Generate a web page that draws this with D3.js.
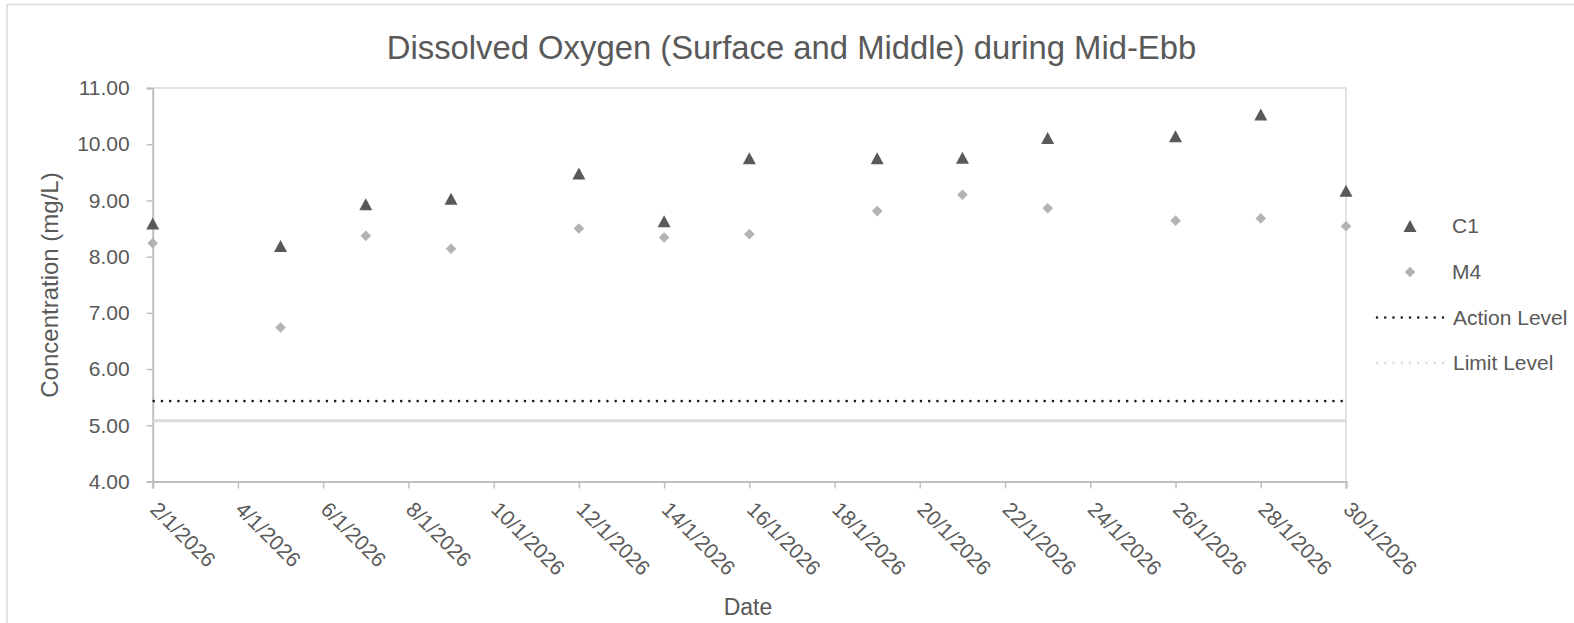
<!DOCTYPE html>
<html><head><meta charset="utf-8">
<script src="https://cdn.jsdelivr.net/npm/d3@7"></script>
<style>body{margin:0;background:#fff}svg{display:block;font-family:"Liberation Sans",Arial,sans-serif}</style>
</head><body><svg id="c" width="1574" height="623"></svg>
<script>
const dates = ["2/1/2026","5/1/2026","7/1/2026","9/1/2026","12/1/2026","14/1/2026","16/1/2026","19/1/2026","21/1/2026","23/1/2026","26/1/2026","28/1/2026","30/1/2026"];
const c1 = [8.59,8.19,8.93,9.03,9.48,8.63,9.75,9.75,9.76,10.11,10.14,10.53,9.17];
const m4 = [8.24,6.74,8.37,8.14,8.50,8.34,8.40,8.81,9.10,8.86,8.64,8.68,8.54];
const actionLevel = 5.43;
const limitLevel = 5.08;
const yTicks = [4,5,6,7,8,9,10,11];
const xTickDates = ["2/1/2026","4/1/2026","6/1/2026","8/1/2026","10/1/2026","12/1/2026","14/1/2026","16/1/2026","18/1/2026","20/1/2026","22/1/2026","24/1/2026","26/1/2026","28/1/2026","30/1/2026"];

const parse = d3.timeParse("%-d/%-m/%Y");
const svg = d3.select("#c");
const L=152.7, R=1346, T=88, B=481.5;
const x = d3.scaleTime().domain([parse("2/1/2026"), parse("30/1/2026")]).range([L,R]);
const y = d3.scaleLinear().domain([4,11]).range([B,T]);
const txt = "#595959";

// outer border
svg.append("rect").attr("x",7).attr("y",4.5).attr("width",1700).attr("height",800).attr("fill","none").attr("stroke","#d9d9d9").attr("stroke-width",1.5);

// title
svg.append("text").attr("x",791.5).attr("y",59).attr("text-anchor","middle").attr("font-size",32.8).attr("fill",txt)
  .text("Dissolved Oxygen (Surface and Middle) during Mid-Ebb");

// plot top/right border
svg.append("line").attr("x1",L).attr("x2",R).attr("y1",T).attr("y2",T).attr("stroke","#d9d9d9").attr("stroke-width",1.5);
svg.append("line").attr("x1",R).attr("x2",R).attr("y1",T).attr("y2",B).attr("stroke","#d9d9d9").attr("stroke-width",1.5);

// y axis
const ya = svg.append("g").attr("transform",`translate(${L},0)`)
  .call(d3.axisLeft(y).tickValues(yTicks).tickFormat(d3.format(".2f")).tickSize(6).tickPadding(17));
ya.select(".domain").attr("stroke","#bfbfbf").attr("stroke-width",2);
ya.selectAll(".tick line").attr("stroke","#bfbfbf").attr("stroke-width",1.5);
ya.selectAll(".tick text").attr("font-size",21).attr("fill",txt).attr("font-family","Liberation Sans, Arial");

// x axis
const xa = svg.append("g").attr("transform",`translate(0,${B})`)
  .call(d3.axisBottom(x).tickValues(xTickDates.map(parse)).tickFormat(d3.timeFormat("%-d/%-m/%Y")).tickSize(7));
xa.select(".domain").attr("stroke","#bfbfbf").attr("stroke-width",2);
xa.selectAll(".tick line").attr("stroke","#bfbfbf").attr("stroke-width",1.5);
xa.selectAll(".tick text").attr("font-size",21).attr("fill",txt).attr("font-family","Liberation Sans, Arial")
  .attr("text-anchor","start").attr("y",0).attr("dy","0.35em")
  .attr("transform","translate(1,24) rotate(45)").attr("x",0);

// axis titles
svg.append("text").attr("x",748).attr("y",615).attr("text-anchor","middle").attr("font-size",23).attr("fill",txt).text("Date");
svg.append("text").attr("transform","translate(58,285) rotate(-90)").attr("text-anchor","middle").attr("font-size",24).attr("fill",txt).text("Concentration (mg/L)");

// reference lines
svg.append("line").attr("x1",L).attr("x2",R).attr("y1",y(limitLevel)).attr("y2",y(limitLevel)).attr("stroke","#d9d9d9").attr("stroke-width",3);
svg.append("line").attr("x1",L+1).attr("x2",R).attr("y1",y(actionLevel)).attr("y2",y(actionLevel)).attr("stroke","#1a1a1a").attr("stroke-width",2.6).attr("stroke-dasharray","0 8.25").attr("stroke-linecap","round");

// markers
const triPath = "M0,-6.5L6.5,5.5L-6.5,5.5Z";
const dia = d3.symbol().type(d3.symbolDiamond2).size(72);
svg.append("g").selectAll("path").data(m4).join("path")
  .attr("d",dia).attr("fill","#b3b3b3")
  .attr("transform",(d,i)=>`translate(${x(parse(dates[i]))},${y(d)})`);
svg.append("g").selectAll("path").data(c1).join("path")
  .attr("d",triPath).attr("fill","#595959")
  .attr("transform",(d,i)=>`translate(${x(parse(dates[i]))},${y(d)+0.5})`);

// legend
const lg = svg.append("g");
lg.append("path").attr("d",triPath).attr("fill","#595959").attr("transform","translate(1410,226.5)");
lg.append("text").attr("x",1452).attr("y",226).attr("dy","0.35em").attr("font-size",21).attr("fill",txt).text("C1");
lg.append("path").attr("d",dia).attr("fill","#b3b3b3").attr("transform","translate(1410,272)");
lg.append("text").attr("x",1452).attr("y",272).attr("dy","0.35em").attr("font-size",21).attr("fill",txt).text("M4");
lg.append("line").attr("x1",1377).attr("x2",1446).attr("y1",317.5).attr("y2",317.5).attr("stroke","#1a1a1a").attr("stroke-width",2.6).attr("stroke-dasharray","0 8.25").attr("stroke-linecap","round");
lg.append("text").attr("x",1453).attr("y",317.5).attr("dy","0.35em").attr("font-size",21).attr("fill",txt).text("Action Level");
lg.append("line").attr("x1",1377).attr("x2",1446).attr("y1",363).attr("y2",363).attr("stroke","#dcdcdc").attr("stroke-width",2.6).attr("stroke-dasharray","0 8.25").attr("stroke-linecap","round");
lg.append("text").attr("x",1453).attr("y",363).attr("dy","0.35em").attr("font-size",21).attr("fill",txt).text("Limit Level");
</script></body></html>
